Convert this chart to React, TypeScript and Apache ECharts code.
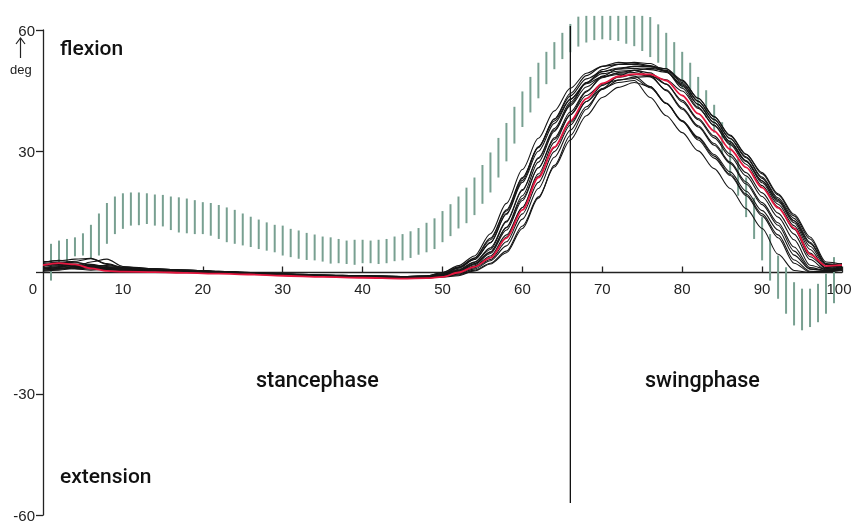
import React, { useEffect, useRef } from "react";
import * as echarts from "echarts";

// gait cycle positions (%) shared by all trial curves
const cycleX = [0, 2, 4, 6, 8, 10, 14, 18, 22, 26, 30, 35, 40, 45, 48, 50, 52, 54, 56, 58, 60, 62, 64, 66, 68, 70, 72, 74, 76, 78, 80, 82, 84, 86, 88, 90, 92, 94, 96, 98, 100];

// mean knee angle (red)
const meanAngle = [1.8, 2.3, 2.0, 1.0, 0.4, 0.2, 0.1, -0.1, -0.3, -0.5, -0.8, -1.1, -1.3, -1.5, -1.4, -1.1, 0.0, 1.4, 3.6, 8.5, 15.5, 23.5, 31.0, 37.5, 43.0, 46.8, 48.5, 49.1, 49.0, 47.5, 43.8, 39.3, 35.0, 30.5, 26.0, 21.0, 16.0, 11.0, 4.5, 1.6, 1.8];

// individual trials (black)
const trial1 = [2.5, 3.0, 2.6, 1.8, 1.2, 0.9, 0.7, 0.4, 0.1, -0.2, -0.5, -0.8, -1.0, -1.1, -0.9, 0.0, 1.7, 4.1, 9.6, 17.1, 25.5, 33.2, 40.0, 45.6, 49.3, 51.0, 51.5, 51.5, 51.0, 50.4, 47.0, 42.4, 37.8, 33.1, 28.4, 23.3, 18.1, 12.8, 6.5, 1.5, 1.5];
const trial2 = [1.0, 1.5, 1.8, 1.5, 1.0, 0.8, 0.5, 0.3, 0.0, -0.3, -0.6, -0.9, -1.1, -1.2, -1.0, -0.3, 1.2, 3.5, 8.1, 15.2, 23.3, 31.1, 37.9, 43.7, 47.9, 49.7, 50.3, 50.5, 50.2, 49.5, 46.7, 42.3, 37.9, 33.2, 28.6, 23.6, 18.5, 13.4, 7.5, 2.0, 1.2];
const trial3 = [2.0, 2.2, 2.8, 3.4, 2.0, 1.2, 0.9, 0.6, 0.2, -0.1, -0.4, -0.7, -0.9, -1.0, -1.0, -0.5, 1.1, 3.2, 7.4, 14.6, 22.8, 30.9, 38.0, 44.3, 48.7, 51.0, 52.0, 51.8, 51.2, 49.8, 46.4, 41.6, 37.1, 32.3, 27.5, 22.2, 16.9, 11.6, 4.8, 0.8, 1.0];
const trial4 = [0.5, 0.8, 1.2, 1.3, 1.0, 0.9, 0.8, 0.5, 0.2, -0.2, -0.5, -0.7, -0.9, -1.0, -0.9, -0.5, 0.8, 2.6, 6.1, 12.7, 20.5, 28.2, 35.2, 41.3, 45.9, 48.4, 49.3, 49.5, 48.4, 45.2, 40.7, 36.3, 31.9, 27.3, 22.4, 17.3, 12.3, 6.3, 1.2, 0.5, 0.8];
const trial5 = [1.5, 2.6, 2.4, 2.0, 1.5, 1.1, 0.8, 0.5, 0.3, 0.0, -0.3, -0.6, -0.8, -1.0, -0.9, -0.5, 0.6, 2.5, 5.7, 12.5, 20.3, 28.4, 35.6, 42.1, 47.0, 49.7, 50.6, 51.0, 50.9, 50.4, 47.6, 43.1, 38.5, 34.0, 29.3, 24.4, 19.2, 14.0, 8.3, 2.2, 1.6];
const trial6 = [0.8, 1.2, 0.9, 0.6, 0.8, 0.9, 0.7, 0.4, 0.1, -0.2, -0.5, -0.8, -1.0, -1.2, -1.1, -0.8, 0.5, 2.2, 5.0, 11.1, 18.3, 25.9, 32.9, 39.0, 43.8, 46.6, 47.6, 48.0, 45.7, 41.8, 37.4, 33.2, 28.8, 24.3, 19.4, 14.5, 9.3, 3.1, 0.3, 0.2, 0.6];
const trial7 = [2.2, 1.8, 1.5, 1.2, 1.0, 0.8, 0.6, 0.4, 0.1, -0.2, -0.5, -0.8, -1.0, -1.1, -1.0, -0.7, 0.3, 1.9, 4.7, 10.5, 17.8, 25.9, 33.3, 39.7, 44.9, 48.2, 49.5, 50.0, 49.4, 46.6, 42.2, 37.8, 33.3, 28.7, 23.9, 18.8, 13.7, 8.1, 1.8, 0.8, 1.2];
const trial8 = [1.2, 1.0, 1.4, 2.6, 3.3, 1.5, 0.9, 0.6, 0.2, -0.1, -0.4, -0.7, -0.9, -1.0, -0.9, -0.6, 0.2, 1.6, 4.1, 9.3, 16.1, 23.8, 30.9, 37.1, 42.3, 45.5, 47.0, 47.5, 43.3, 38.8, 34.6, 30.1, 25.7, 20.8, 15.8, 10.9, 4.5, 0.5, 0.0, 0.2, 0.5];
const trial9 = [1.6, 1.9, 2.0, 1.4, 0.9, 0.7, 0.5, 0.2, 0.0, -0.3, -0.6, -0.9, -1.1, -1.3, -1.2, -0.9, 0.0, 1.5, 3.7, 8.8, 16.1, 24.4, 32.2, 39.0, 44.7, 48.6, 50.4, 51.0, 50.9, 49.7, 46.1, 41.6, 37.1, 32.4, 27.7, 22.6, 17.5, 12.3, 5.7, 1.0, 1.4];
const trial10 = [0.3, 0.6, 1.0, 0.9, 0.7, 0.6, 0.4, 0.2, 0.0, -0.3, -0.6, -0.9, -1.1, -1.2, -1.2, -1.0, -0.2, 1.2, 3.2, 7.6, 14.5, 22.3, 29.9, 36.5, 42.3, 46.3, 48.3, 49.0, 48.7, 46.6, 42.6, 38.1, 33.8, 29.3, 24.7, 19.7, 14.7, 9.5, 3.2, 0.6, 1.0];
const trial11 = [1.3, 1.6, 1.6, 1.1, 0.6, 0.5, 0.3, 0.1, -0.1, -0.4, -0.7, -1.0, -1.2, -1.3, -1.3, -1.1, -0.4, 0.9, 2.9, 6.6, 13.2, 20.8, 28.5, 35.2, 41.0, 45.3, 47.6, 48.3, 48.5, 47.7, 44.9, 40.6, 36.5, 31.9, 27.5, 22.7, 17.8, 12.8, 7.2, 1.9, 2.2];
const trial12 = [0.9, 1.3, 1.9, 1.6, 1.2, 1.0, 0.7, 0.3, 0.0, -0.3, -0.6, -0.9, -1.1, -1.2, -1.1, -0.9, -0.6, 0.6, 2.3, 5.3, 11.5, 18.7, 26.1, 32.8, 38.8, 43.3, 45.8, 47.0, 46.0, 41.9, 37.6, 33.5, 29.2, 24.9, 20.1, 15.3, 10.5, 4.3, 0.8, 0.4, 0.9];
const trial13 = [2.8, 2.4, 2.0, 1.6, 1.3, 1.0, 0.8, 0.5, 0.2, -0.1, -0.4, -0.7, -0.9, -1.1, -1.0, -0.3, 1.1, 3.2, 7.4, 14.4, 22.3, 30.0, 36.9, 42.8, 47.0, 49.2, 49.8, 50.0, 48.7, 45.0, 40.4, 36.0, 31.5, 27.0, 21.9, 16.8, 11.7, 5.3, 0.9, 0.5, 1.1];
const trial14 = [1.9, 2.0, 1.7, 1.3, 0.9, 0.7, 0.5, 0.3, 0.0, -0.3, -0.6, -0.9, -1.1, -1.3, -1.3, -1.1, -0.8, 0.4, 2.1, 4.9, 10.9, 18.4, 26.5, 33.9, 40.4, 45.5, 48.6, 50.0, 50.5, 50.0, 47.4, 43.1, 38.6, 33.8, 29.2, 24.7, 19.5, 14.4, 8.8, 2.6, 2.0];
const trial15 = [2.6, 2.9, 3.3, 3.5, 2.2, 1.3, 0.8, 0.5, 0.2, -0.1, -0.4, -0.7, -0.9, -1.0, -1.0, -0.4, 0.4, 2.1, 5.1, 11.2, 19.0, 27.3, 34.9, 41.6, 46.9, 50.2, 51.5, 52.0, 51.7, 49.8, 45.6, 40.9, 36.3, 31.6, 26.8, 21.5, 16.2, 10.7, 3.9, 1.2, 1.6];
const trial16 = [0.6, 0.9, 1.4, 1.8, 1.7, 1.3, 0.9, 0.6, 0.3, 0.0, -0.3, -0.6, -0.8, -1.0, -0.9, 0.0, 1.4, 3.6, 8.5, 15.5, 23.5, 31.0, 37.5, 42.9, 46.7, 48.4, 49.0, 48.6, 46.0, 41.8, 37.4, 32.8, 28.3, 24.0, 19.0, 14.0, 8.6, 2.3, 0.1, 0.3, 0.7];
const trials = [trial1, trial2, trial3, trial4, trial5, trial6, trial7, trial8, trial9, trial10, trial11, trial12, trial13, trial14, trial15, trial16];

// normal range band (grey-green vertical bars), one per % of the cycle
const bandX = [1, 2, 3, 4, 5, 6, 7, 8, 9, 10, 11, 12, 13, 14, 15, 16, 17, 18, 19, 20, 21, 22, 23, 24, 25, 26, 27, 28, 29, 30, 31, 32, 33, 34, 35, 36, 37, 38, 39, 40, 41, 42, 43, 44, 45, 46, 47, 48, 49, 50, 51, 52, 53, 54, 55, 56, 57, 58, 59, 60, 61, 62, 63, 64, 65, 66, 67, 68, 69, 70, 71, 72, 73, 74, 75, 76, 77, 78, 79, 80, 81, 82, 83, 84, 85, 86, 87, 88, 89, 90, 91, 92, 93, 94, 95, 96, 97, 98, 99];
const bandHigh = [7.1, 7.9, 8.3, 8.7, 9.7, 11.8, 14.6, 17.2, 18.8, 19.6, 19.8, 19.8, 19.6, 19.3, 19.2, 18.8, 18.6, 18.3, 17.9, 17.4, 17.2, 16.7, 16.1, 15.5, 14.6, 13.8, 13.1, 12.4, 11.8, 11.6, 10.8, 10.4, 9.8, 9.4, 8.9, 8.7, 8.3, 7.9, 8.1, 8.1, 7.9, 8.1, 8.3, 8.9, 9.5, 10.2, 11.0, 12.3, 13.4, 15.2, 16.9, 18.8, 21.0, 23.5, 26.6, 29.7, 33.3, 37.0, 41.0, 44.8, 48.4, 51.9, 54.6, 57.0, 59.3, 61.5, 63.3, 63.5, 63.5, 63.5, 63.5, 63.5, 63.5, 63.5, 63.5, 63.2, 61.4, 59.3, 57.0, 54.6, 51.9, 48.4, 45.1, 41.5, 37.2, 32.8, 28.2, 23.5, 18.5, 13.7, 9.5, 4.2, 1.3, -2.4, -4.0, -4.0, -2.8, -0.3, 3.8];
const bandLow = [-2.0, 1.0, 2.5, 4.0, 4.2, 3.5, 4.2, 7.1, 9.5, 10.8, 11.6, 11.7, 12.0, 11.6, 11.4, 10.5, 9.9, 9.7, 9.5, 9.5, 9.1, 8.3, 7.5, 7.1, 6.7, 6.3, 5.8, 5.4, 5.0, 4.2, 3.8, 3.4, 3.1, 3.0, 2.7, 2.2, 2.3, 2.1, 1.9, 2.3, 2.3, 2.1, 2.3, 2.8, 3.0, 3.6, 4.4, 5.0, 5.8, 7.5, 9.0, 10.9, 12.2, 14.2, 17.0, 19.8, 23.5, 27.5, 31.9, 36.0, 39.6, 43.1, 46.6, 50.3, 52.8, 54.5, 55.9, 56.9, 57.5, 57.7, 57.5, 57.3, 56.6, 56.0, 54.8, 53.3, 51.9, 50.3, 48.1, 45.6, 43.3, 40.8, 38.3, 34.6, 29.5, 24.2, 19.0, 13.7, 8.3, 3.0, -2.0, -6.5, -10.2, -13.1, -14.3, -13.5, -12.3, -10.2, -7.6];

// toe-off marker (stance / swing boundary)
const toeOffX = [66, 66];
const toeOffY = [-57, 61];

const xTicks = { min: 0, max: 100, interval: 10 };
const yTicks = { min: -60, max: 60, interval: 30 };

const FONT = "'Liberation Sans', Arial, Helvetica, sans-serif";
const LABEL_FONT = "Roboto, 'Liberation Sans', Arial, sans-serif";

const GRID_TOP = 30;
const GRID_BOTTOM = 9;
const CHART_H = 524;

export default function App() {
  const ref = useRef<HTMLDivElement>(null);
  useEffect(() => {
    if (!ref.current) return;
    const chart = echarts.init(ref.current, undefined, { renderer: "svg" });
    const bandData = bandX.map((x, i) => [x, bandLow[i], bandHigh[i]]);
    const plotH = CHART_H - GRID_TOP - GRID_BOTTOM;
    // distance from grid bottom to the y=0 line
    const zeroOffset = (plotH * (0 - yTicks.min)) / (yTicks.max - yTicks.min);
    const trialSeries = trials.map((t, k) => ({
      name: "trial" + (k + 1),
      type: "line",
      data: cycleX.map((x, i) => [x, t[i]]),
      symbol: "none",
      smooth: 0.3,
      smoothMonotone: "x",
      lineStyle: { color: "#161616", width: 1.1 },
      z: 3,
    }));
    const labelRich = {
      z: { fontSize: 15, fontFamily: FONT, color: "#222", padding: [0, 20, 0, 0] },
      e: { fontSize: 15, fontFamily: FONT, color: "#222", padding: [0, 6, 0, 0] },
    };
    chart.setOption({
      animation: false,
      grid: { left: 43, right: 11, top: GRID_TOP, bottom: GRID_BOTTOM, containLabel: false, outerBoundsMode: "none" },
      xAxis: {
        type: "value",
        ...xTicks,
        position: "bottom",
        offset: -zeroOffset,
        axisLine: { onZero: false, lineStyle: { color: "#222", width: 1.3 } },
        axisTick: { inside: true, length: 6, lineStyle: { color: "#222", width: 1.3 } },
        axisLabel: {
          color: "#222",
          fontSize: 15,
          fontFamily: FONT,
          margin: 8,
          formatter: (v: number) => (v === 0 ? "{z|0}" : v === 100 ? "{e|100}" : String(v)),
          rich: labelRich,
        },
        splitLine: { show: false },
      },
      yAxis: {
        type: "value",
        ...yTicks,
        axisLine: { show: true, onZero: false, lineStyle: { color: "#222", width: 1.3 } },
        axisTick: { show: true, length: 7, lineStyle: { color: "#222", width: 1.3 } },
        axisLabel: {
          color: "#222",
          fontSize: 15,
          fontFamily: FONT,
          margin: 8,
          formatter: (v: number) => (v === 0 ? "" : String(v)),
        },
        splitLine: { show: false },
      },
      series: [
        {
          type: "custom",
          clip: false,
          data: bandData,
          encode: { x: 0, y: [1, 2] },
          z: 1,
          renderItem: (params: any, api: any) => {
            const lo = api.coord([api.value(0), api.value(1)]);
            const hi = api.coord([api.value(0), api.value(2)]);
            return {
              type: "line",
              shape: { x1: lo[0], y1: lo[1], x2: hi[0], y2: hi[1] },
              style: { stroke: "#78a091", lineWidth: 2 },
            };
          },
        },
        ...trialSeries,
        {
          name: "mean",
          type: "line",
          data: cycleX.map((x, i) => [x, meanAngle[i]]),
          symbol: "none",
          smooth: 0.3,
          smoothMonotone: "x",
          lineStyle: { color: "#e4173f", width: 1.8 },
          z: 4,
        },
        {
          name: "toe-off",
          type: "line",
          clip: false,
          data: toeOffX.map((x, i) => [x, toeOffY[i]]),
          symbol: "none",
          lineStyle: { color: "#111", width: 1.3 },
          z: 5,
        },
      ],
      graphic: [
        { type: "text", left: 60, top: 37, style: { text: "flexion", font: `500 21px ${LABEL_FONT}`, fill: "#111" } },
        { type: "text", left: 60, top: 465, style: { text: "extension", font: `500 21px ${LABEL_FONT}`, fill: "#111" } },
        { type: "text", left: 256, top: 368, style: { text: "stancephase", font: `500 21.5px ${LABEL_FONT}`, fill: "#111" } },
        { type: "text", left: 645, top: 368, style: { text: "swingphase", font: `500 21.5px ${LABEL_FONT}`, fill: "#111" } },
        { type: "text", left: 10, top: 63, style: { text: "deg", font: `13px ${FONT}`, fill: "#222" } },
        { type: "line", shape: { x1: 20.5, y1: 38, x2: 20.5, y2: 58 }, style: { stroke: "#222", lineWidth: 1.2 } },
        { type: "polyline", shape: { points: [[16, 44], [20.5, 38], [25, 44]] }, style: { stroke: "#222", lineWidth: 1.2, fill: "none" } },
      ],
    });
    return () => chart.dispose();
  }, []);
  return <div ref={ref} style={{ position: "fixed", left: 0, top: 0, width: 853, height: 524 }} />;
}
